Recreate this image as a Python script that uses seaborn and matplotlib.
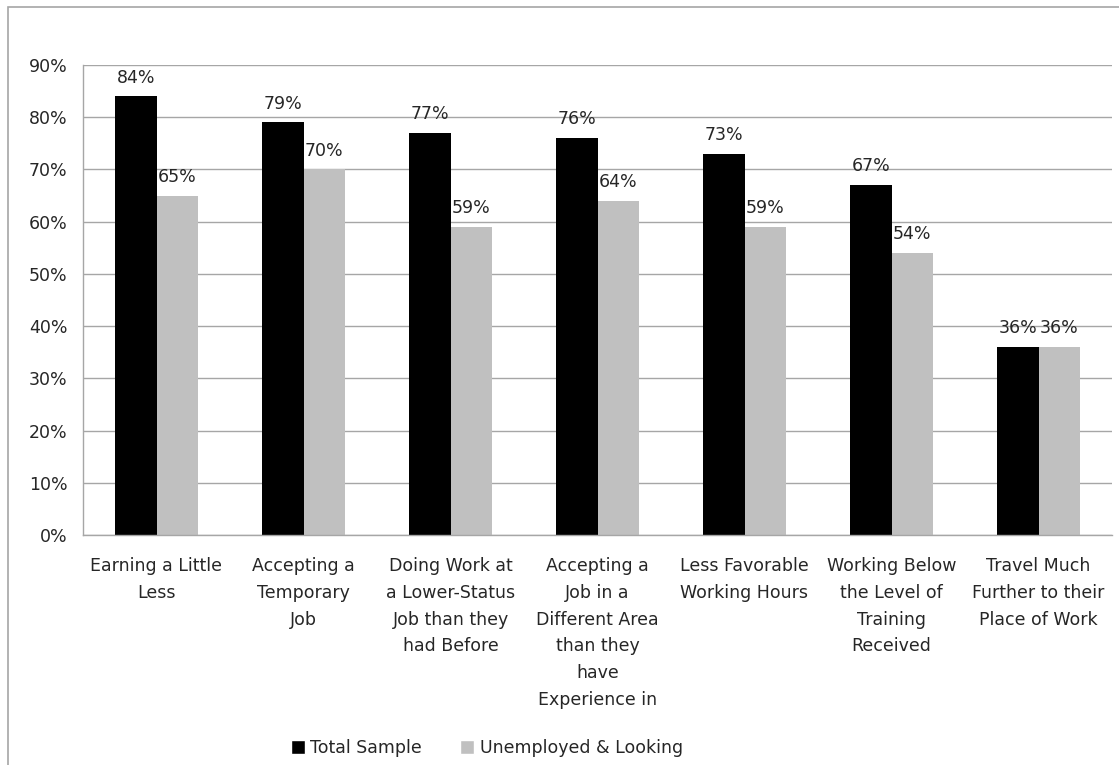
import matplotlib
matplotlib.use("Agg")
import matplotlib.pyplot as plt
import seaborn as sns
import pandas as pd
from matplotlib.patches import Rectangle, Patch

categories = [
    "Earning a Little\nLess",
    "Accepting a\nTemporary\nJob",
    "Doing Work at\na Lower-Status\nJob than they\nhad Before",
    "Accepting a\nJob in a\nDifferent Area\nthan they\nhave\nExperience in",
    "Less Favorable\nWorking Hours",
    "Working Below\nthe Level of\nTraining\nReceived",
    "Travel Much\nFurther to their\nPlace of Work",
]
total_sample = [84, 79, 77, 76, 73, 67, 36]
unemployed_looking = [65, 70, 59, 64, 59, 54, 36]
series_names = ["Total Sample", "Unemployed & Looking"]
yticks = [0, 10, 20, 30, 40, 50, 60, 70, 80, 90]

df = pd.DataFrame({
    "category": categories * 2,
    "value": total_sample + unemployed_looking,
    "series": [series_names[0]] * 7 + [series_names[1]] * 7,
})

sns.set_theme(style="white")
plt.rcParams['font.family'] = ['DejaVu Sans']
text_color = '#262626'
grid_color = '#a6a6a6'
fs = 12.5

fig = plt.figure(figsize=(11.19, 7.65), dpi=100)
ax = fig.add_axes([83/1119, 1 - 535/765, (1112-83)/1119, (535-65)/765])

sns.barplot(data=df, x="category", y="value", hue="series",
            palette=["#000000", "#c0c0c0"], width=0.565, gap=0,
            saturation=1, ax=ax, legend=False, errorbar=None, linewidth=0)

ax.set_ylim(0, 90)
ax.set_yticks(yticks)
ax.set_yticklabels([f"{t}%" for t in yticks])
ax.set_xlim(-0.5, 6.5)
ax.set_xlabel("")
ax.set_ylabel("")
ax.yaxis.grid(True, color=grid_color, linewidth=1.0)
ax.set_axisbelow(True)
for s in ["top", "right"]:
    ax.spines[s].set_visible(False)
for s in ["left", "bottom"]:
    ax.spines[s].set_color(grid_color)
    ax.spines[s].set_linewidth(1.0)
ax.tick_params(axis='y', length=0, pad=11, labelsize=fs, labelcolor=text_color)
ax.tick_params(axis='x', length=0, pad=16, labelsize=fs, labelcolor=text_color)
for lbl in ax.get_xticklabels():
    lbl.set_linespacing(1.62)
    lbl.set_verticalalignment('top')

for cont in ax.containers:
    ax.bar_label(cont, labels=[f"{int(v)}%" for v in cont.datavalues],
                 padding=7, fontsize=fs, color=text_color)

handles = [Patch(facecolor="#000000"), Patch(facecolor="#c0c0c0")]
fig.legend(handles, series_names, loc="center", bbox_to_anchor=(487/1119, 1 - 748/765),
           ncol=2, frameon=False, fontsize=fs, handlelength=0.8, handleheight=0.8,
           handletextpad=0.3, columnspacing=2.2, labelcolor=text_color)

fig.patches.append(Rectangle((8/1119, -0.05), 1.2, 1 - 7.5/765 + 0.05,
                             transform=fig.transFigure, fill=False,
                             edgecolor=grid_color, linewidth=1.2))

fig.savefig("out.png", dpi=100)
